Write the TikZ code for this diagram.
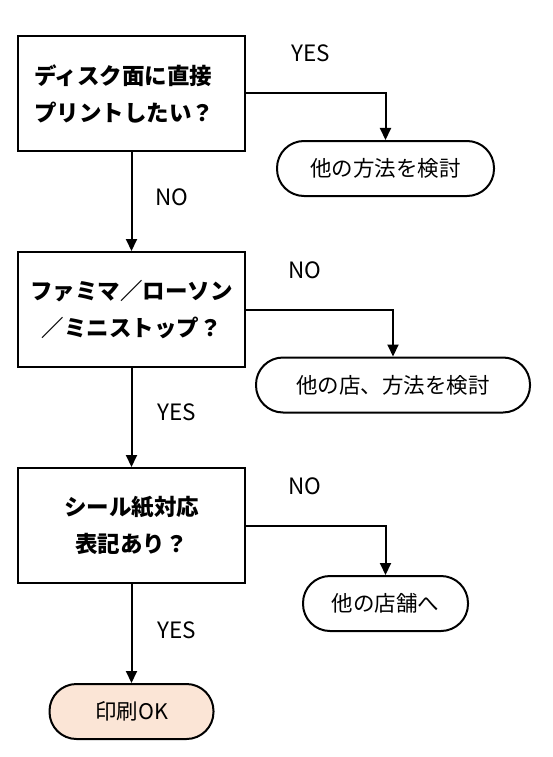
\documentclass[tikz,border=0pt]{standalone}
\usepackage{fontspec}
\setmainfont{Noto Sans CJK JP}
\definecolor{okfill}{HTML}{FBE5D6}
\usetikzlibrary{arrows.meta}

\begin{document}
\begin{tikzpicture}[x=1pt, y=-1pt,
  qbox/.style={draw, line width=2pt, minimum width=227pt, minimum height=115pt,
    font=\bfseries\fontsize{22.5}{37}\selectfont},
  endbox/.style={draw, line width=2pt, rounded corners=27pt, minimum height=55pt,
    font=\fontsize{21.5}{26}\selectfont},
  lbl/.style={font=\fontsize{22.5}{26}\selectfont},
  flow/.style={line width=2pt, -{Triangle[length=12pt,width=11pt]}}]
  \useasboundingbox (0,0) rectangle (552,757);

  % questions
  \node [qbox, align=left, text width=195pt, inner xsep=16pt] (q1) at (131.5, 93.5) {ディスク面に直接\\プリントしたい？};
  \node [qbox, align=center] (q2) at (131.5, 309.5) {ファミマ／ローソン\\／ミニストップ？};
  \node [qbox, align=center] (q3) at (131.5, 525.5) {シール紙対応\\表記あり？};

  % outcomes
  \node [endbox, minimum width=217pt] (t1) at (385.5, 168.5) {他の方法を検討};
  \node [endbox, minimum width=274pt] (t2) at (393, 385) {他の店、方法を検討};
  \node [endbox, minimum width=165pt] (t3) at (385.5, 603.5) {他の店舗へ};
  \node [endbox, minimum width=164pt, fill=okfill] (t4) at (131.5, 711.5) {印刷OK};

  % connectors
  \foreach \q/\t in {q1/t1, q2/t2, q3/t3} {
    \draw [flow] (\q.east) -| (\t.north);
  }
  \foreach \a/\b in {q1/q2, q2/q3, q3/t4} {
    \draw [flow] (\a.south) -- (\b.north);
  }

  % answers
  \node [lbl] (yes1) at (311, 53) {YES};
  \node [lbl] (no1) at (172, 197) {NO};
  \node [lbl] (no2) at (305, 270) {NO};
  \node [lbl] (yes2) at (177, 412) {YES};
  \node [lbl] (no3) at (305, 486) {NO};
  \node [lbl] (yes3) at (177, 630) {YES};
\end{tikzpicture}
\end{document}
